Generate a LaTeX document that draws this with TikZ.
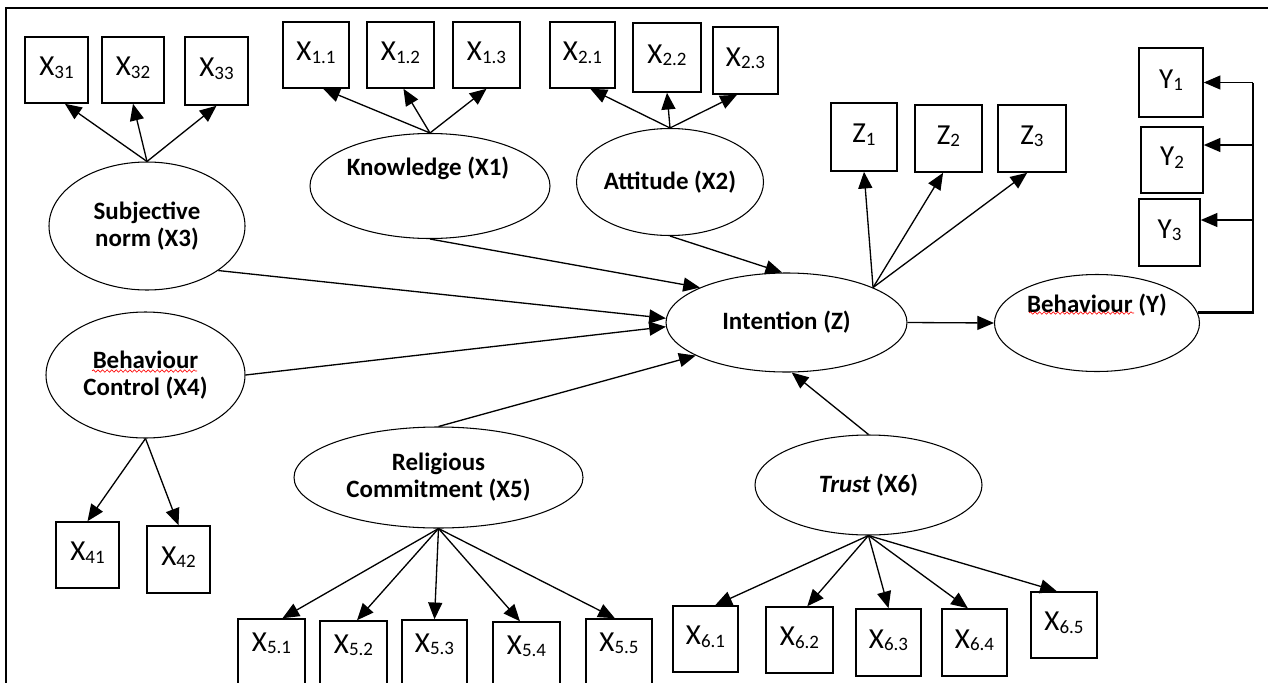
\documentclass[tikz,border=0pt]{standalone}
\usepackage{fontspec}
\setmainfont{Carlito}
\usetikzlibrary{arrows.meta,decorations.pathmorphing,shapes.geometric}
\tikzset{
 latent/.style={draw, ellipse, line width=0.6pt, inner sep=0pt, align=center, font=\fontsize{14.2}{15.5}\selectfont\bfseries},
 ltext/.style={inner sep=0pt, font=\fontsize{14.2}{15.5}\selectfont\bfseries},
 sz/.style 2 args={minimum width=#1*0.02cm, minimum height=#2*0.02cm},
 ind/.style={draw, rectangle, line width=0.9pt, inner sep=0pt, text height=10.5pt, text depth=4pt, font=\fontsize{16.5}{18}\selectfont},
 indlow/.style={ind, text depth=11.5pt},
 arr/.style={line width=0.75pt, -{Triangle[length=9.5pt,width=8pt]}},
 frameline/.style={line width=0.9pt},
 ylink/.style={line width=1.4pt},
 spell/.style={draw=red, line width=0.35pt, decorate, decoration={snake, amplitude=0.7pt, segment length=2.6pt}},
}
\newcommand\sbs[1]{\raisebox{-1.5pt}{\fontsize{10.8}{12}\selectfont #1}}
\begin{document}
\begin{tikzpicture}[x=0.02cm, y=-0.02cm]
\useasboundingbox (0,0) rectangle (1268,683);
% frame
\draw[frameline] (6,690) -- (6,8) -- (1275,8);

% latent variables
\node[latent, sz={196}{128}] (sn) at (147,226) {Subjective\\norm (X3)};
\node[latent, sz={240}{105}] (kn) at (430,186) {};
\node[ltext] (knt) at (428,168) {Knowledge (X1)};
\node[latent, sz={185}{107}] (at) at (670,182) {Attitude (X2)};
\node[latent, sz={241}{99}] (in) at (786.5,322.5) {Intention (Z)};
\node[latent, sz={205}{97}] (beh) at (1097,323) {};
\node[ltext] (beht) at (1097,305) {Behaviour (Y)};
\node[latent, sz={199}{126}] (bc) at (145.5,375) {Behaviour\\Control (X4)};
\node[latent, sz={289}{101}] (rc) at (438.5,477.5) {Religious\\Commitment (X5)};
\node[latent, sz={227}{100}] (tr) at (868.5,485) {\itshape Trust\upshape{} (X6)};

% spell-check underlines
\draw[spell] (92,371) -- (197,371);
\draw[spell] (1029,313) -- (1134,313);

% indicators
\node[ind, sz={63}{66}] (x31) at (56.5,70) {X\sbs{31}};
\node[ind, sz={62}{66}] (x32) at (133,70) {X\sbs{32}};
\node[ind, sz={63}{68}] (x33) at (216.5,71) {X\sbs{33}};
\node[ind, sz={66}{66}] (x11) at (316,55) {X\sbs{1.1}};
\node[ind, sz={67}{66}] (x12) at (400.5,55) {X\sbs{1.2}};
\node[ind, sz={67}{66}] (x13) at (486.5,55) {X\sbs{1.3}};
\node[ind, sz={65}{66}] (x21) at (582.5,55) {X\sbs{2.1}};
\node[ind, sz={68}{69}] (x22) at (667,57.5) {X\sbs{2.2}};
\node[ind, sz={65}{67}] (x23) at (745.5,60.5) {X\sbs{2.3}};
\node[ind, sz={66}{68}] (z1) at (864,137) {Z\sbs{1}};
\node[ind, sz={67}{67}] (z2) at (948.5,138.5) {Z\sbs{2}};
\node[ind, sz={68}{67}] (z3) at (1032,138.5) {Z\sbs{3}};
\node[ind, sz={64}{69}] (y1) at (1171,82.5) {Y\sbs{1}};
\node[ind, sz={62}{66}] (y2) at (1172,160) {Y\sbs{2}};
\node[ind, sz={61}{67}] (y3) at (1169.5,232.5) {Y\sbs{3}};
\node[ind, sz={63}{66}] (x41) at (87.5,555) {X\sbs{41}};
\node[ind, sz={63}{67}] (x42) at (178.5,559.5) {X\sbs{42}};
\node[indlow, sz={67}{66}] (x51) at (271.5,652) {X\sbs{5.1}};
\node[indlow, sz={67}{66}] (x52) at (353.5,654) {X\sbs{5.2}};
\node[indlow, sz={65}{66}] (x53) at (434.5,653) {X\sbs{5.3}};
\node[indlow, sz={67}{66}] (x54) at (526.5,655) {X\sbs{5.4}};
\node[indlow, sz={66}{66}] (x55) at (619,652) {X\sbs{5.5}};
\node[ind, sz={65}{66}] (x61) at (705.5,639) {X\sbs{6.1}};
\node[ind, sz={67}{66}] (x62) at (799.5,640) {X\sbs{6.2}};
\node[ind, sz={65}{67}] (x63) at (888.5,642.5) {X\sbs{6.3}};
\node[ind, sz={65}{67}] (x64) at (974.5,642.5) {X\sbs{6.4}};
\node[ind, sz={66}{66}] (x65) at (1064,625) {X\sbs{6.5}};

% measurement arrows
\draw[arr] (sn.north) -- (x31.-76);
\draw[arr] (sn.north) -- (x32.south);
\draw[arr] (sn.north) -- (x33.south);
\draw[arr] (kn.north) -- (x11.-78);
\draw[arr] (kn.north) -- (x12.-85);
\draw[arr] (kn.north) -- (x13.south);
\draw[arr] (at.north) -- (x21.-77);
\draw[arr] (at.north) -- (x22.south);
\draw[arr] (at.north) -- (x23.-104);
\coordinate (zo) at (in.22);
\draw[arr] (zo) -- (z1.south);
\draw[arr] (zo) -- (z2.-99);
\draw[arr] (zo) -- (z3.-98);
\draw[arr] (bc.south) -- (x41.north);
\draw[arr] (bc.south) -- (x42.north);
\draw[arr] (rc.south) -- (x51.72);
\draw[arr] (rc.south) -- (x52.84);
\draw[arr] (rc.south) -- (x53.north);
\draw[arr] (rc.south) -- (x54.101);
\draw[arr] (rc.south) -- (x55.97);
\draw[arr] (tr.south) -- (x61.74);
\draw[arr] (tr.south) -- (x62.77);
\draw[arr] (tr.south) -- (x63.north);
\draw[arr] (tr.south) -- (x64.101);
\draw[arr] (tr.south) -- (x65.102);

% structural arrows
\draw[arr] (sn.-32) -- (in.178);
\draw[arr] (bc.east) -- (in.182);
\draw[arr] (kn.south) -- (in.158);
\draw[arr] (at.south) -- (in.95);
\draw[arr] (rc.north) -- (in.200);
\draw[arr] (tr.north) -- (in.-84);
\draw[arr] (in.east) -- (beh.west);

% behaviour indicators
\coordinate (yt) at (1253,82.5);
\coordinate (yb2) at (1253,145);
\coordinate (yb3) at (1253,220);
\draw[ylink] (beh.6) -| (yt);
\draw[arr] (yt) -- (y1.east);
\draw[arr] (yb2) -- (yb2 -| y2.east);
\draw[arr] (yb3) -- (yb3 -| y3.east);
\end{tikzpicture}
\end{document}
